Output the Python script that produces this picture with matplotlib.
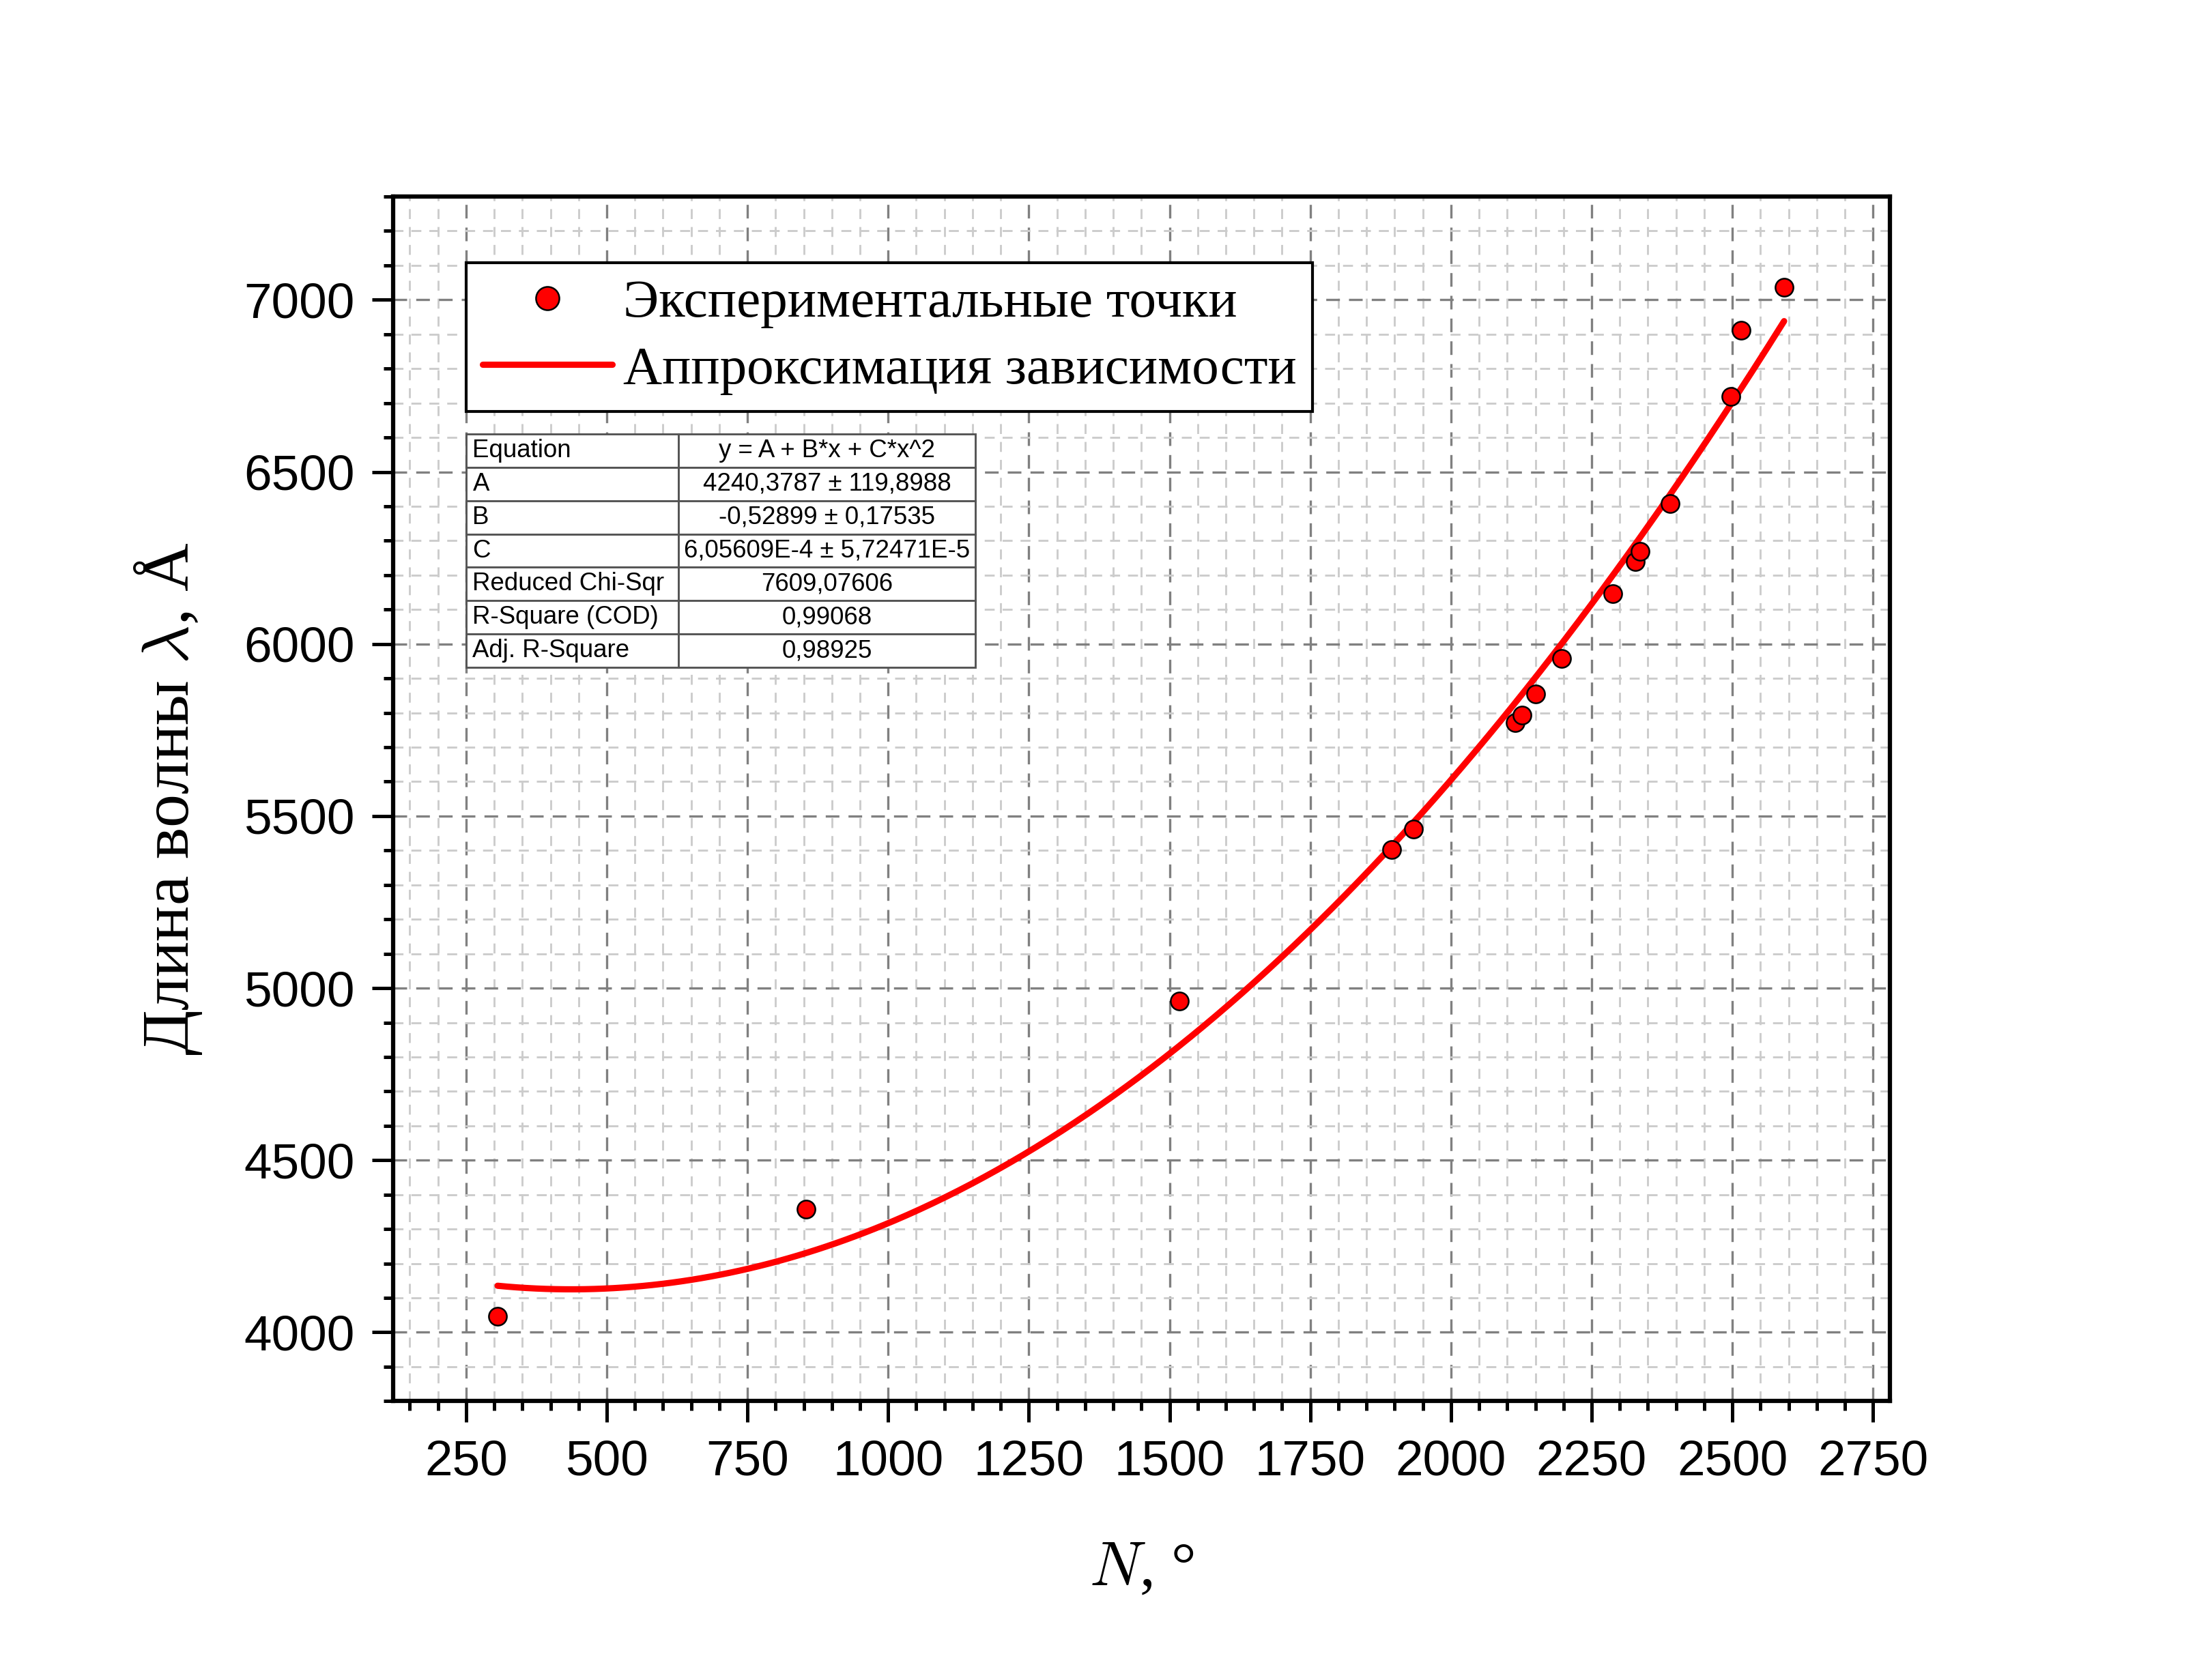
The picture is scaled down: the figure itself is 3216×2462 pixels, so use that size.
import numpy as np
import matplotlib.pyplot as plt
from matplotlib.ticker import MultipleLocator

plt.rcParams['mathtext.fontset'] = 'cm'

N = [306, 854, 1518, 1895, 1934, 2114, 2126, 2150, 2197, 2288, 2328, 2336, 2390, 2497, 2516, 2592]
lam = [4046, 4358, 4962, 5402, 5462, 5772, 5794, 5854, 5957, 6147, 6239, 6270, 6407, 6720, 6911, 7037]

# fit parameters shown in the table
A, B, C = 4240.3787, -0.52899, 6.05609e-4

table_rows = [
    ['Equation', 'y = A + B*x + C*x^2'],
    ['A', '4240,3787 ± 119,8988'],
    ['B', '-0,52899 ± 0,17535'],
    ['C', '6,05609E-4 ± 5,72471E-5'],
    ['Reduced Chi-Sqr', '7609,07606'],
    ['R-Square (COD)', '0,99068'],
    ['Adj. R-Square', '0,98925'],
]

serif = ['Liberation Serif', 'DejaVu Serif']
sans = ['Liberation Sans', 'DejaVu Sans']

fig = plt.figure(figsize=(10.72, 8.2067), dpi=300)
ax = fig.add_axes([0.179, 0.166, 0.682, 0.717])

# fit curve
xf = np.linspace(N[0], N[-1], 400)
yf = A + B * xf + C * xf ** 2
ax.plot(xf, yf, color='red', lw=2.2, solid_capstyle='round', zorder=3,
        label='Аппроксимация зависимости')
ax.plot(N, lam, 'o', color='red', markeredgecolor='black', markeredgewidth=0.6,
        markersize=6.3, zorder=4, label='Экспериментальные точки')

ax.set_xlim(120, 2780)
ax.set_ylim(3800, 7300)
ax.xaxis.set_major_locator(MultipleLocator(250))
ax.xaxis.set_minor_locator(MultipleLocator(50))
ax.yaxis.set_major_locator(MultipleLocator(500))
ax.yaxis.set_minor_locator(MultipleLocator(100))

ax.grid(which='major', color='#808080', linestyle=(0, (6, 4)), lw=0.8)
ax.grid(which='minor', color='#cccccc', linestyle=(0, (5, 4)), lw=0.7)
ax.set_axisbelow(True)

for s in ax.spines.values():
    s.set_linewidth(1.5)
ax.tick_params(which='major', direction='out', length=7.4, width=1.2, pad=6,
               labelsize=17.5)
ax.tick_params(which='minor', direction='out', length=3.3, width=1.2)
for lbl in ax.get_xticklabels() + ax.get_yticklabels():
    lbl.set_family(sans)

ax.set_xlabel('$N$, °', family=serif, fontsize=22, labelpad=20)
ax.set_ylabel('Длина волны $\\lambda$, Å', family=serif, fontsize=23.5, labelpad=14)

h, l = ax.get_legend_handles_labels()
leg = ax.legend(h[::-1], l[::-1], loc='upper left', bbox_to_anchor=(0.049, 0.945),
                prop={'family': serif, 'size': 19}, frameon=True, fancybox=False,
                edgecolor='black', framealpha=1, borderpad=0.3, borderaxespad=0,
                handlelength=2.4, handletextpad=0.2, labelspacing=0.32,
                markerscale=1.3)
leg.get_frame().set_linewidth(1.0)

tbl = ax.table(cellText=table_rows, colWidths=[0.417, 0.583],
               bbox=[0.049, 0.609, 0.34, 0.194], zorder=5)
tbl.auto_set_font_size(False)
for (r, c), cell in tbl.get_celld().items():
    cell.set_edgecolor('#555555')
    cell.set_linewidth(0.7)
    cell.set_facecolor('white')
    cell.get_text().set_fontsize(8.8)
    cell.get_text().set_family(sans)
    if c == 0:
        cell.get_text().set_ha('left')
        cell.PAD = 0.03
    else:
        cell.get_text().set_ha('center')

fig.savefig('out.png', dpi=300)
